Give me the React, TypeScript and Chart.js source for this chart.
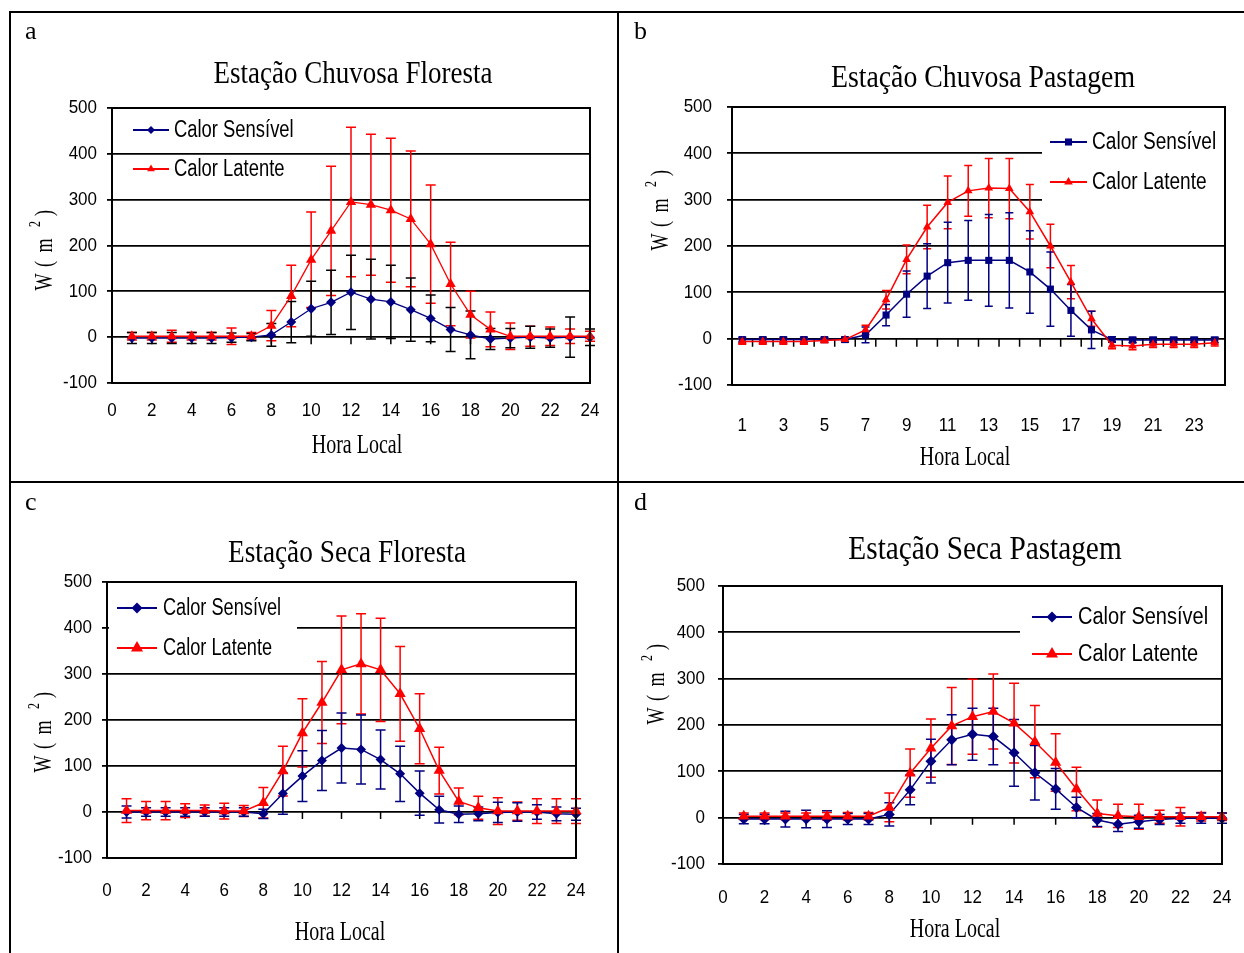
import React, { useEffect, useRef } from "react";
import { Chart, registerables } from "chart.js";

Chart.register(...registerables);

// ---------------- DATA ----------------
const HOURS = [1, 2, 3, 4, 5, 6, 7, 8, 9, 10, 11, 12, 13, 14, 15, 16, 17, 18, 19, 20, 21, 22, 23, 24];
const HOUR_LABELS = ["1", "2", "3", "4", "5", "6", "7", "8", "9", "10", "11", "12", "13", "14", "15", "16", "17", "18", "19", "20", "21", "22", "23", "24"];
const X_TICKS_LINEAR = [0, 2, 4, 6, 8, 10, 12, 14, 16, 18, 20, 22, 24];
const X_TICKS_CATEGORY = ["1", "3", "5", "7", "9", "11", "13", "15", "17", "19", "21", "23"];
const Y_TICKS = [-100, 0, 100, 200, 300, 400, 500];
const SERIES_NAMES = ["Calor Sensível", "Calor Latente"];
const X_TITLE = "Hora Local";
const TITLES = ["Estação Chuvosa Floresta", "Estação Chuvosa Pastagem", "Estação Seca Floresta", "Estação Seca Pastagem"];
const LETTERS = ["a", "b", "c", "d"];

// (a) Estação Chuvosa Floresta
const A_SENS = [-2, -2, -2, -2, -2, -1, 0, 5, 33, 62, 76, 98, 83, 77, 60, 41, 17, 5, -4, -2, 0, -2, 0, 0];
const A_SENS_ERR = [12, 12, 12, 12, 12, 10, 8, 25, 45, 60, 70, 81, 87, 80, 69, 51, 48, 52, 23, 21, 24, 20, 44, 18];
const A_LAT = [2, 2, 2, 2, 2, 2, 2, 25, 90, 169, 232, 295, 289, 277, 258, 203, 116, 49, 17, 2, 2, 2, 2, 2];
const A_LAT_ERR = [8, 8, 13, 8, 8, 18, 8, 33, 67, 104, 141, 163, 154, 157, 148, 129, 91, 51, 38, 29, 22, 20, 16, 11];

// (b) Estação Chuvosa Pastagem
const B_SENS = [-2, -2, -2, -2, -2, -2, 8, 51, 96, 135, 164, 169, 169, 169, 144, 107, 61, 19, -2, -3, -3, -3, -3, -3];
const B_SENS_ERR = [5, 5, 5, 5, 5, 5, 17, 23, 50, 70, 87, 86, 99, 103, 89, 80, 56, 40, 6, 6, 6, 6, 6, 6];
const B_LAT = [-6, -6, -6, -6, -4, -2, 19, 84, 171, 241, 294, 319, 325, 324, 274, 200, 122, 43, -14, -16, -12, -12, -12, -9];
const B_LAT_ERR = [6, 6, 6, 6, 5, 5, 10, 20, 31, 47, 57, 55, 64, 65, 59, 47, 36, 16, 8, 8, 7, 7, 7, 7];

// (c) Estação Seca Floresta
const C_SENS = [0, 0, 0, 0, 0, 0, 0, -4, 40, 78, 112, 139, 136, 114, 83, 41, 5, -5, -4, -1, 0, 0, -4, -5];
const C_SENS_ERR = [13, 9, 9, 9, 9, 9, 9, 10, 45, 55, 65, 76, 75, 64, 60, 48, 29, 18, 15, 22, 20, 16, 15, 13];
const C_LAT = [3, 3, 3, 3, 3, 2, 2, 20, 89, 172, 238, 309, 322, 309, 257, 181, 90, 23, 9, 2, 2, 2, 2, 2];
const C_LAT_ERR = [26, 20, 20, 15, 12, 17, 12, 33, 54, 74, 89, 117, 109, 112, 103, 76, 51, 29, 25, 29, 20, 27, 27, 27];

// (d) Estação Seca Pastagem
const D_SENS = [-3, -3, -3, -3, -3, -3, -3, 7, 60, 122, 168, 180, 175, 140, 97, 62, 22, -5, -14, -9, -4, -1, -1, -1];
const D_SENS_ERR = [10, 10, 17, 19, 18, 12, 12, 25, 32, 47, 54, 56, 61, 72, 59, 44, 22, 14, 16, 14, 11, 11, 11, 11];
const D_LAT = [3, 3, 3, 3, 3, 3, 3, 22, 96, 150, 198, 218, 229, 204, 164, 119, 62, 9, 4, 2, 2, 2, 2, 2];
const D_LAT_ERR = [7, 7, 7, 7, 8, 8, 8, 31, 52, 63, 83, 81, 81, 86, 78, 62, 47, 29, 25, 27, 14, 20, 9, 8];

// ---------------- STYLE / LAYOUT ----------------
const NAVY = "#000080";
const RED = "#ff0000";
const SERIF = "'Liberation Serif', 'Times New Roman', serif";
const SANS = "'Liberation Sans', Arial, sans-serif";

type Box = { x1: number; y1: number; x2: number; y2: number };
type Panel = {
  letter: string;
  title: string;
  sens: number[];
  sensErr: number[];
  lat: number[];
  latErr: number[];
  category: boolean;
  canvas: { left: number; top: number; width: number; height: number };
  plot: { left: number; top: number; right: number; bottom: number };
  titlePos: { x: number; y: number; size: number };
  xTitlePos: { x: number; y: number };
  yTitlePos: { x: number; y: number };
  yTickRight: number;
  xTickY: number;
  legend: { x1: number; x2: number; textX: number; rows: number[]; sx: number; box: Box | null; sensR: number; latR: number };
  sensStyle: "rectRot" | "rect";
  sensR: number;
  latR: number;
  sensErrColor: string;
  cap: number;
  lineW: number;
};

const PANELS: Panel[] = [
  {
    letter: LETTERS[0], title: TITLES[0],
    sens: A_SENS, sensErr: A_SENS_ERR, lat: A_LAT, latErr: A_LAT_ERR,
    category: false,
    canvas: { left: 11, top: 13, width: 606, height: 468 },
    plot: { left: 112, top: 108, right: 590, bottom: 383 },
    titlePos: { x: 353, y: 83, size: 27 },
    xTitlePos: { x: 357, y: 453 },
    yTitlePos: { x: 44, y: 247 },
    yTickRight: 97, xTickY: 411,
    legend: { x1: 133, x2: 169, textX: 174, rows: [130, 169], sx: 0.8, box: null, sensR: 4, latR: 4.5 },
    sensStyle: "rectRot", sensR: 5, latR: 6, sensErrColor: "#000000", cap: 5, lineW: 1.3,
  },
  {
    letter: LETTERS[1], title: TITLES[1],
    sens: B_SENS, sensErr: B_SENS_ERR, lat: B_LAT, latErr: B_LAT_ERR,
    category: true,
    canvas: { left: 620, top: 13, width: 624, height: 468 },
    plot: { left: 732, top: 107, right: 1225, bottom: 385 },
    titlePos: { x: 983, y: 87, size: 27.8 },
    xTitlePos: { x: 965, y: 465 },
    yTitlePos: { x: 660, y: 207 },
    yTickRight: 712, xTickY: 426,
    legend: { x1: 1050, x2: 1087, textX: 1092, rows: [142, 182], sx: 0.83, box: { x1: 1042, y1: 109, x2: 1224, y2: 214 }, sensR: 5, latR: 5 },
    sensStyle: "rect", sensR: 5, latR: 5, sensErrColor: NAVY, cap: 4, lineW: 1.5,
  },
  {
    letter: LETTERS[2], title: TITLES[2],
    sens: C_SENS, sensErr: C_SENS_ERR, lat: C_LAT, latErr: C_LAT_ERR,
    category: false,
    canvas: { left: 11, top: 483, width: 606, height: 470 },
    plot: { left: 107, top: 582, right: 576, bottom: 858 },
    titlePos: { x: 347, y: 562, size: 27.3 },
    xTitlePos: { x: 340, y: 940 },
    yTitlePos: { x: 43, y: 729 },
    yTickRight: 92, xTickY: 891,
    legend: { x1: 117, x2: 157, textX: 163, rows: [608, 648], sx: 0.79, box: { x1: 109, y1: 583, x2: 297, y2: 664 }, sensR: 5.5, latR: 7 },
    sensStyle: "rectRot", sensR: 5, latR: 6.5, sensErrColor: NAVY, cap: 5, lineW: 1.5,
  },
  {
    letter: LETTERS[3], title: TITLES[3],
    sens: D_SENS, sensErr: D_SENS_ERR, lat: D_LAT, latErr: D_LAT_ERR,
    category: false,
    canvas: { left: 620, top: 483, width: 624, height: 470 },
    plot: { left: 723, top: 586, right: 1222, bottom: 864 },
    titlePos: { x: 985, y: 559, size: 29.3 },
    xTitlePos: { x: 955, y: 937 },
    yTitlePos: { x: 656, y: 681 },
    yTickRight: 705, xTickY: 898,
    legend: { x1: 1032, x2: 1072, textX: 1078, rows: [617, 654], sx: 0.87, box: { x1: 1020, y1: 587, x2: 1221, y2: 671 }, sensR: 5.5, latR: 7 },
    sensStyle: "rectRot", sensR: 5.5, latR: 6.5, sensErrColor: NAVY, cap: 5, lineW: 1.5,
  },
];

// ---------------- DRAW HELPERS ----------------
function drawText(
  ctx: CanvasRenderingContext2D, text: string, x: number, y: number, font: string,
  o: { align?: CanvasTextAlign; baseline?: CanvasTextBaseline; sx?: number; sy?: number; rot?: number; color?: string } = {}
) {
  ctx.save();
  ctx.translate(x, y);
  if (o.rot) ctx.rotate(o.rot);
  ctx.scale(o.sx ?? 1, o.sy ?? 1);
  ctx.font = font;
  ctx.fillStyle = o.color ?? "#000";
  ctx.textAlign = o.align ?? "left";
  ctx.textBaseline = o.baseline ?? "alphabetic";
  ctx.fillText(text, 0, 0);
  ctx.restore();
}

function drawMarker(ctx: CanvasRenderingContext2D, style: string, x: number, y: number, r: number, color: string) {
  ctx.save();
  ctx.fillStyle = color;
  ctx.beginPath();
  if (style === "rectRot") {
    ctx.moveTo(x, y - r); ctx.lineTo(x + r, y); ctx.lineTo(x, y + r); ctx.lineTo(x - r, y);
  } else if (style === "rect") {
    const s = r * Math.SQRT1_2;
    ctx.rect(x - s, y - s, 2 * s, 2 * s);
  } else {
    ctx.moveTo(x, y - r);
    ctx.lineTo(x + r * 0.866, y + r * 0.5);
    ctx.lineTo(x - r * 0.866, y + r * 0.5);
  }
  ctx.closePath();
  ctx.fill();
  ctx.restore();
}

function makeDecor(p: Panel) {
  const ox = p.canvas.left;
  const oy = p.canvas.top;
  const xPix = (chart: any, i: number) => chart.scales.x.getPixelForValue(p.category ? i : HOURS[i]);
  return {
    id: "decor" + p.letter,
    beforeDatasetsDraw(chart: any) {
      const ctx: CanvasRenderingContext2D = chart.ctx;
      const ys = chart.scales.y;
      const xs = chart.scales.x;
      if (p.legend.box) {
        const b = p.legend.box;
        ctx.save();
        ctx.fillStyle = "#ffffff";
        ctx.fillRect(b.x1 - ox, b.y1 - oy, b.x2 - b.x1, b.y2 - b.y1);
        ctx.restore();
      }
      const y0 = ys.getPixelForValue(0);
      ctx.save();
      ctx.strokeStyle = "#000";
      ctx.lineWidth = 1.5;
      ctx.beginPath();
      if (p.category) {
        for (let i = 0; i <= HOUR_LABELS.length; i++) {
          const x = xs.getPixelForValue(i - 0.5);
          ctx.moveTo(x, y0); ctx.lineTo(x, y0 + 8);
        }
      } else {
        X_TICKS_LINEAR.forEach((v) => {
          const x = xs.getPixelForValue(v);
          ctx.moveTo(x, y0); ctx.lineTo(x, y0 + 7);
        });
      }
      ctx.stroke();
      ctx.restore();
      const sets = [
        { v: p.lat, e: p.latErr, c: RED },
        { v: p.sens, e: p.sensErr, c: p.sensErrColor },
      ];
      sets.forEach((s) => {
        ctx.save();
        ctx.strokeStyle = s.c;
        ctx.lineWidth = 1.5;
        ctx.beginPath();
        s.v.forEach((val, i) => {
          const x = xPix(chart, i);
          const yt = ys.getPixelForValue(val + s.e[i]);
          const yb = ys.getPixelForValue(val - s.e[i]);
          ctx.moveTo(x, yt); ctx.lineTo(x, yb);
          ctx.moveTo(x - p.cap, yt); ctx.lineTo(x + p.cap, yt);
          ctx.moveTo(x - p.cap, yb); ctx.lineTo(x + p.cap, yb);
        });
        ctx.stroke();
        ctx.restore();
      });
    },
    afterDraw(chart: any) {
      const ctx: CanvasRenderingContext2D = chart.ctx;
      const a = chart.chartArea;
      const xs = chart.scales.x;
      const ys = chart.scales.y;
      ctx.save();
      ctx.strokeStyle = "#000";
      ctx.lineWidth = 2;
      ctx.strokeRect(a.left, a.top, a.right - a.left, a.bottom - a.top);
      ctx.restore();
      Y_TICKS.forEach((v) => {
        drawText(ctx, String(v), p.yTickRight - ox, ys.getPixelForValue(v), `17px ${SANS}`, { align: "right", baseline: "middle", sy: 1.12 });
      });
      if (p.category) {
        X_TICKS_CATEGORY.forEach((lab) => {
          const x = xs.getPixelForValue(HOUR_LABELS.indexOf(lab));
          drawText(ctx, lab, x, p.xTickY - oy, `17px ${SANS}`, { align: "center", baseline: "middle", sy: 1.12 });
        });
      } else {
        X_TICKS_LINEAR.forEach((v) => {
          drawText(ctx, String(v), xs.getPixelForValue(v), p.xTickY - oy, `17px ${SANS}`, { align: "center", baseline: "middle", sy: 1.12 });
        });
      }
      drawText(ctx, p.title, p.titlePos.x - ox, p.titlePos.y - oy, `${p.titlePos.size}px ${SERIF}`, { align: "center", sy: 1.15 });
      drawText(ctx, X_TITLE, p.xTitlePos.x - ox, p.xTitlePos.y - oy, `20px ${SERIF}`, { align: "center", sy: 1.34 });
      {
        const cx = p.yTitlePos.x - ox;
        const cy = p.yTitlePos.y - oy;
        const parts: [string, number, number, number][] = [
          ["W", -35, 8, 18],
          ["(", -17, 8, 18],
          ["m", 1.5, 8, 18],
          ["2", 23, -4, 12],
          [")", 34, 8, 18],
        ];
        ctx.save();
        ctx.translate(cx, cy);
        ctx.rotate(-Math.PI / 2);
        parts.forEach(([t, dx, dy, fs]) => {
          drawText(ctx, t, dx, dy, `${fs}px ${SERIF}`, { align: "center", sy: 1.35 });
        });
        ctx.restore();
      }
      const L = p.legend;
      const items = [
        { name: SERIES_NAMES[0], color: NAVY, style: p.sensStyle, r: L.sensR },
        { name: SERIES_NAMES[1], color: RED, style: "triangle", r: L.latR },
      ];
      items.forEach((it, k) => {
        const y = L.rows[k] - oy;
        ctx.save();
        ctx.strokeStyle = it.color;
        ctx.lineWidth = 1.8;
        ctx.beginPath();
        ctx.moveTo(L.x1 - ox, y);
        ctx.lineTo(L.x2 - ox, y);
        ctx.stroke();
        ctx.restore();
        drawMarker(ctx, it.style, (L.x1 + L.x2) / 2 - ox, y, it.r, it.color);
        drawText(ctx, it.name, L.textX - ox, y, `23px ${SANS}`, { baseline: "middle", sx: L.sx, sy: 1.08 });
      });
    },
  };
}

function PanelChart({ p }: { p: Panel }) {
  const ref = useRef<HTMLCanvasElement | null>(null);
  useEffect(() => {
    if (!ref.current) return;
    const toData = (vals: number[]) => (p.category ? vals : vals.map((v, i) => ({ x: HOURS[i], y: v })));
    const xScale: any = p.category
      ? { type: "category", labels: HOUR_LABELS, offset: true }
      : { type: "linear", min: 0, max: 24 };
    Object.assign(xScale, {
      ticks: { display: false, stepSize: 2 },
      grid: { display: false },
      border: { display: false },
      afterFit: (s: any) => { s.height = p.canvas.top + p.canvas.height - p.plot.bottom; },
    });
    const chart = new Chart(ref.current, {
      type: "line",
      data: {
        labels: p.category ? HOUR_LABELS : undefined,
        datasets: [
          {
            label: SERIES_NAMES[0],
            data: toData(p.sens) as any,
            borderColor: NAVY, backgroundColor: NAVY,
            pointStyle: p.sensStyle, pointRadius: p.sensR, pointBorderWidth: 0,
            pointBackgroundColor: NAVY, borderWidth: p.lineW, tension: 0, clip: false as any, order: 1,
          },
          {
            label: SERIES_NAMES[1],
            data: toData(p.lat) as any,
            borderColor: RED, backgroundColor: RED,
            pointStyle: "triangle", pointRadius: p.latR, pointBorderWidth: 0,
            pointBackgroundColor: RED, borderWidth: p.lineW, tension: 0, clip: false as any, order: 0,
          },
        ],
      },
      options: {
        responsive: false,
        animation: false,
        devicePixelRatio: 1,
        events: [],
        layout: {
          autoPadding: false,
          padding: {
            left: 0,
            top: p.plot.top - p.canvas.top,
            right: p.canvas.left + p.canvas.width - p.plot.right,
            bottom: 0,
          },
        },
        plugins: { legend: { display: false }, tooltip: { enabled: false }, title: { display: false } },
        scales: {
          x: xScale,
          y: {
            type: "linear", min: -100, max: 500,
            ticks: { display: false, stepSize: 100 },
            grid: { color: "#000", lineWidth: 1.8, drawTicks: true, tickLength: 5, tickColor: "#000" },
            border: { display: false },
            afterFit: (s: any) => { s.width = p.plot.left - p.canvas.left; },
          },
        },
      } as any,
      plugins: [makeDecor(p)],
    });
    return () => chart.destroy();
  }, [p]);
  return (
    <canvas
      ref={ref}
      width={p.canvas.width}
      height={p.canvas.height}
      style={{ position: "absolute", left: p.canvas.left, top: p.canvas.top, width: p.canvas.width, height: p.canvas.height }}
    />
  );
}

export default function App() {
  const line = (l: number, t: number, w: number, h: number) => (
    <div style={{ position: "absolute", left: l, top: t, width: w, height: h, background: "#000" }} />
  );
  const letterPos = [
    { x: 25, y: 18 },
    { x: 634, y: 18 },
    { x: 25, y: 489 },
    { x: 634, y: 489 },
  ];
  return (
    <div style={{ position: "absolute", left: 0, top: 0, width: 1244, height: 953, overflow: "hidden", background: "#fff" }}>
      {PANELS.map((p) => <PanelChart key={p.letter} p={p} />)}
      {line(9, 11, 1235, 2)}
      {line(9, 11, 2, 942)}
      {line(617, 11, 2, 942)}
      {line(9, 481, 1235, 2)}
      {PANELS.map((p, i) => (
        <span
          key={"l" + p.letter}
          style={{ position: "absolute", left: letterPos[i].x, top: letterPos[i].y, fontFamily: SERIF, fontSize: 26, lineHeight: "26px", color: "#000" }}
        >
          {p.letter}
        </span>
      ))}
    </div>
  );
}
